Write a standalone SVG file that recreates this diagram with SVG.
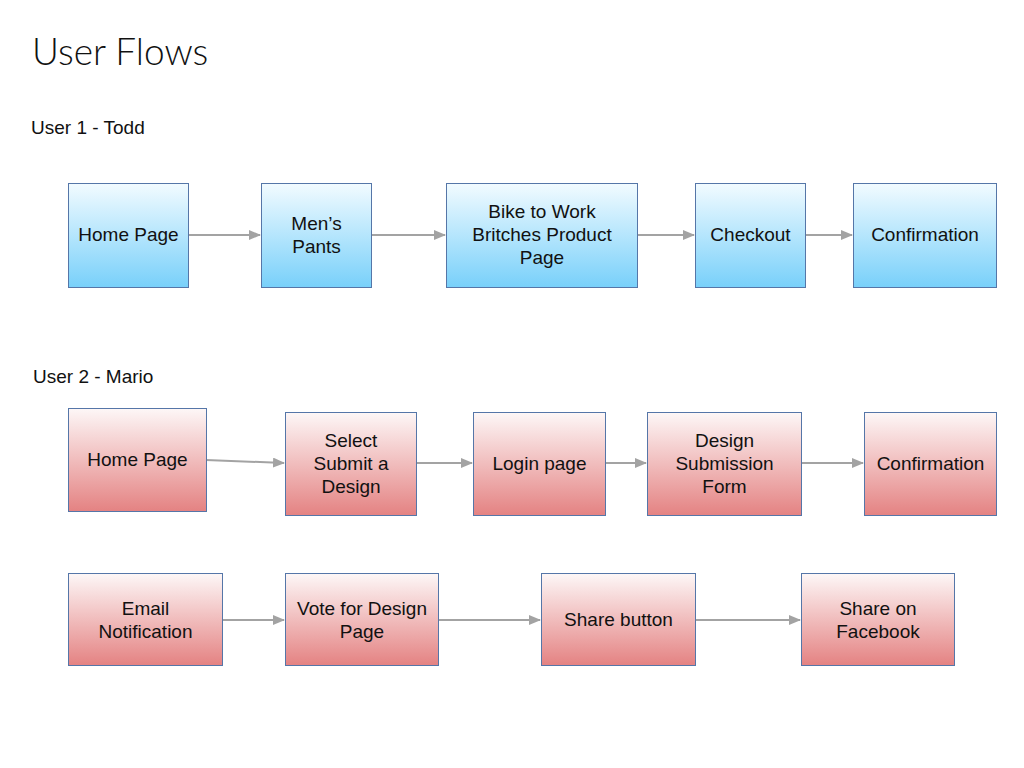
<svg xmlns="http://www.w3.org/2000/svg" width="1024" height="768" viewBox="0 0 1024 768">
<defs>
<linearGradient id="blue" x1="0" y1="0" x2="0" y2="1">
<stop offset="0" stop-color="#f2fbff"/>
<stop offset="1" stop-color="#78d0fa"/>
</linearGradient>
<linearGradient id="red" x1="0" y1="0" x2="0" y2="1">
<stop offset="0" stop-color="#fdf7f7"/>
<stop offset="1" stop-color="#e48282"/>
</linearGradient>
<marker id="arr" markerWidth="12" markerHeight="10" refX="11" refY="5" orient="auto" markerUnits="userSpaceOnUse">
<path d="M0,0 L12,5 L0,10 z" fill="#a3a3a3"/>
</marker>
<style>
.b{fill:url(#blue);stroke:#5576a8;stroke-width:1}
.r{fill:url(#red);stroke:#5576a8;stroke-width:1}
.t{font-family:"Liberation Sans",Arial,sans-serif;font-size:19px;fill:#111;text-anchor:middle}
.h{font-family:"Liberation Sans",Arial,sans-serif;font-size:19px;fill:#111}
.title{font-family:Lato,"Open Sans","Liberation Sans",sans-serif;font-weight:300;font-size:37px;fill:#111}
.c line{stroke:#a3a3a3;stroke-width:2;marker-end:url(#arr)}
</style>
</defs>
<rect width="1024" height="768" fill="#fff"/>
<text class="title" x="32" y="65">User Flows</text>
<text class="h" x="31" y="134">User 1 - Todd</text>
<text class="h" x="33" y="383">User 2 - Mario</text>

<g class="c" id="connectors">
<line x1="188" y1="235" x2="260" y2="235"/>
<line x1="371" y1="235" x2="445" y2="235"/>
<line x1="637" y1="235" x2="694" y2="235"/>
<line x1="805" y1="235" x2="852" y2="235"/>
<line x1="206" y1="460" x2="284" y2="463"/>
<line x1="416" y1="463" x2="472" y2="463"/>
<line x1="605" y1="463" x2="646" y2="463"/>
<line x1="801" y1="463" x2="863" y2="463"/>
<line x1="222" y1="620" x2="284" y2="620"/>
<line x1="438" y1="620" x2="540" y2="620"/>
<line x1="695" y1="620" x2="800" y2="620"/>
</g>

<g id="n1"><rect class="b" x="68.5" y="183.5" width="120" height="104"/><text class="t" x="128.5" y="241">Home Page</text></g>
<g id="n2"><rect class="b" x="261.5" y="183.5" width="110" height="104"/><text class="t" x="316.5" y="230">Men’s<tspan x="316.5" dy="23">Pants</tspan></text></g>
<g id="n3"><rect class="b" x="446.5" y="183.5" width="191" height="104"/><text class="t" x="542" y="218">Bike to Work<tspan x="542" dy="23">Britches Product</tspan><tspan x="542" dy="23">Page</tspan></text></g>
<g id="n4"><rect class="b" x="695.5" y="183.5" width="110" height="104"/><text class="t" x="750.5" y="241">Checkout</text></g>
<g id="n5"><rect class="b" x="853.5" y="183.5" width="143" height="104"/><text class="t" x="925" y="241">Confirmation</text></g>

<g id="m1"><rect class="r" x="68.5" y="408.5" width="138" height="103"/><text class="t" x="137.5" y="466">Home Page</text></g>
<g id="m2"><rect class="r" x="285.5" y="412.5" width="131" height="103"/><text class="t" x="351" y="447">Select<tspan x="351" dy="23">Submit a</tspan><tspan x="351" dy="23">Design</tspan></text></g>
<g id="m3"><rect class="r" x="473.5" y="412.5" width="132" height="103"/><text class="t" x="539.5" y="470">Login page</text></g>
<g id="m4"><rect class="r" x="647.5" y="412.5" width="154" height="103"/><text class="t" x="724.5" y="447">Design<tspan x="724.5" dy="23">Submission</tspan><tspan x="724.5" dy="23">Form</tspan></text></g>
<g id="m5"><rect class="r" x="864.5" y="412.5" width="132" height="103"/><text class="t" x="930.5" y="470">Confirmation</text></g>

<g id="m6"><rect class="r" x="68.5" y="573.5" width="154" height="92"/><text class="t" x="145.5" y="615">Email<tspan x="145.5" dy="23">Notification</tspan></text></g>
<g id="m7"><rect class="r" x="285.5" y="573.5" width="153" height="92"/><text class="t" x="362" y="615">Vote for Design<tspan x="362" dy="23">Page</tspan></text></g>
<g id="m8"><rect class="r" x="541.5" y="573.5" width="154" height="92"/><text class="t" x="618.5" y="626">Share button</text></g>
<g id="m9"><rect class="r" x="801.5" y="573.5" width="153" height="92"/><text class="t" x="878" y="615">Share on<tspan x="878" dy="23">Facebook</tspan></text></g>
</svg>
